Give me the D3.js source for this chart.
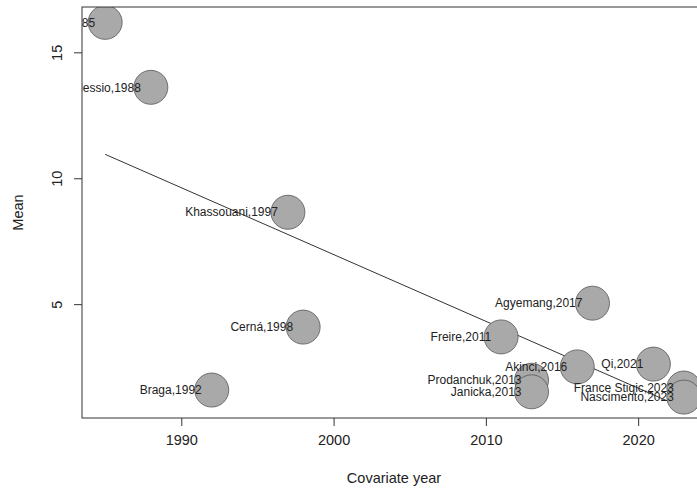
<!DOCTYPE html>
<html lang="en">
<head>
    <meta charset="UTF-8">
    <title>Bubble plot: Mean vs year</title>
    <script src="https://d3js.org/d3.v7.min.js"></script>
    <style>
        body { margin: 0; background: #fff; }
        svg { font-family: "Liberation Sans", Arial, sans-serif; }
    </style>
</head>
<body>
    <div id="chart"></div>
    <script>
        // study labels, covariate (year) and mean
        const studies = ["1985", "Alessio,1988", "Braga,1992", "Khassouani,1997", "Cerná,1998",
            "Freire,2011", "Prodanchuk,2013", "Janicka,2013", "Akinci,2016", "Agyemang,2017",
            "Qi,2021", "France Stigic,2023", "Nascimento,2023"];
        const years = [1985, 1988, 1992, 1997, 1998, 2011, 2013, 2013, 2016, 2017, 2021, 2023, 2023];
        const means = [16.19, 13.61, 1.59, 8.65, 4.09, 3.70, 1.98, 1.52, 2.51, 5.04, 2.62, 1.67, 1.31];

        // fitted meta-regression line
        const fitYears = [1985, 2023];
        const fitMeans = [10.95, 0.87];

        const xTicks = [1990, 2000, 2010, 2020];
        const yTicks = [5, 10, 15];

        const w = 697, h = 488;
        const padL = 82, padR = 707, padT = 7, padB = 418;

        const x = d3.scaleLinear().domain([1983.48, 2024.52]).range([padL, padR]);
        const y = d3.scaleLinear().domain([0.48, 16.8]).range([padB, padT]);

        const svg = d3.select("#chart").append("svg")
            .attr("width", w)
            .attr("height", h);

        svg.append("clipPath").attr("id", "plotclip")
            .append("rect")
            .attr("x", padL).attr("y", padT)
            .attr("width", padR - padL).attr("height", padB - padT);

        const plot = svg.append("g").attr("clip-path", "url(#plotclip)");

        // regression line
        plot.append("line")
            .attr("x1", x(fitYears[0])).attr("y1", y(fitMeans[0]))
            .attr("x2", x(fitYears[1])).attr("y2", y(fitMeans[1]))
            .attr("stroke", "#333")
            .attr("stroke-width", 1);

        // bubbles
        plot.selectAll("circle")
            .data(years)
            .enter()
            .append("circle")
            .attr("cx", (d) => x(d))
            .attr("cy", (d, i) => y(means[i]))
            .attr("r", 17)
            .attr("fill", "#a9a9a9")
            .attr("stroke", "#555")
            .attr("stroke-width", 0.8);

        // study labels (overlaps kept as in the original plot)
        plot.selectAll("text.lab")
            .data(studies)
            .enter()
            .append("text")
            .attr("class", "lab")
            .attr("x", (d, i) => x(years[i]) - 10)
            .attr("y", (d, i) => y(means[i]))
            .attr("dy", "0.35em")
            .attr("text-anchor", "end")
            .attr("font-size", "12px")
            .attr("fill", "#222")
            .text((d) => d);

        // box
        svg.append("rect")
            .attr("x", padL).attr("y", padT)
            .attr("width", padR - padL).attr("height", padB - padT)
            .attr("fill", "none")
            .attr("stroke", "#333")
            .attr("stroke-width", 1);

        // axes
        const xAxis = svg.append("g")
            .attr("transform", "translate(0," + padB + ")")
            .call(d3.axisBottom(x).tickValues(xTicks).tickSize(8).tickPadding(9).tickFormat(d3.format("d")));
        xAxis.select(".domain").remove();
        xAxis.selectAll("line").attr("stroke", "#333");
        xAxis.selectAll("text")
            .attr("font-size", "14.5px")
            .attr("font-family", "Liberation Sans, Arial, sans-serif")
            .attr("fill", "#222");

        const yAxis = svg.append("g")
            .attr("transform", "translate(" + padL + ",0)")
            .call(d3.axisLeft(y).tickValues(yTicks).tickSize(8));
        yAxis.select(".domain").remove();
        yAxis.selectAll("line").attr("stroke", "#333");
        yAxis.selectAll("text")
            .attr("x", null)
            .attr("dy", null)
            .attr("text-anchor", "middle")
            .attr("transform", "translate(-20,0) rotate(-90)")
            .attr("font-size", "14.5px")
            .attr("font-family", "Liberation Sans, Arial, sans-serif")
            .attr("fill", "#222");

        // axis titles
        svg.append("text")
            .attr("x", 394)
            .attr("y", 483)
            .attr("text-anchor", "middle")
            .attr("font-size", "14.5px")
            .attr("fill", "#222")
            .text("Covariate year");

        svg.append("text")
            .attr("transform", "translate(23," + ((padT + padB) / 2) + ") rotate(-90)")
            .attr("text-anchor", "middle")
            .attr("font-size", "14.5px")
            .attr("fill", "#222")
            .text("Mean");
    </script>
</body>
</html>
